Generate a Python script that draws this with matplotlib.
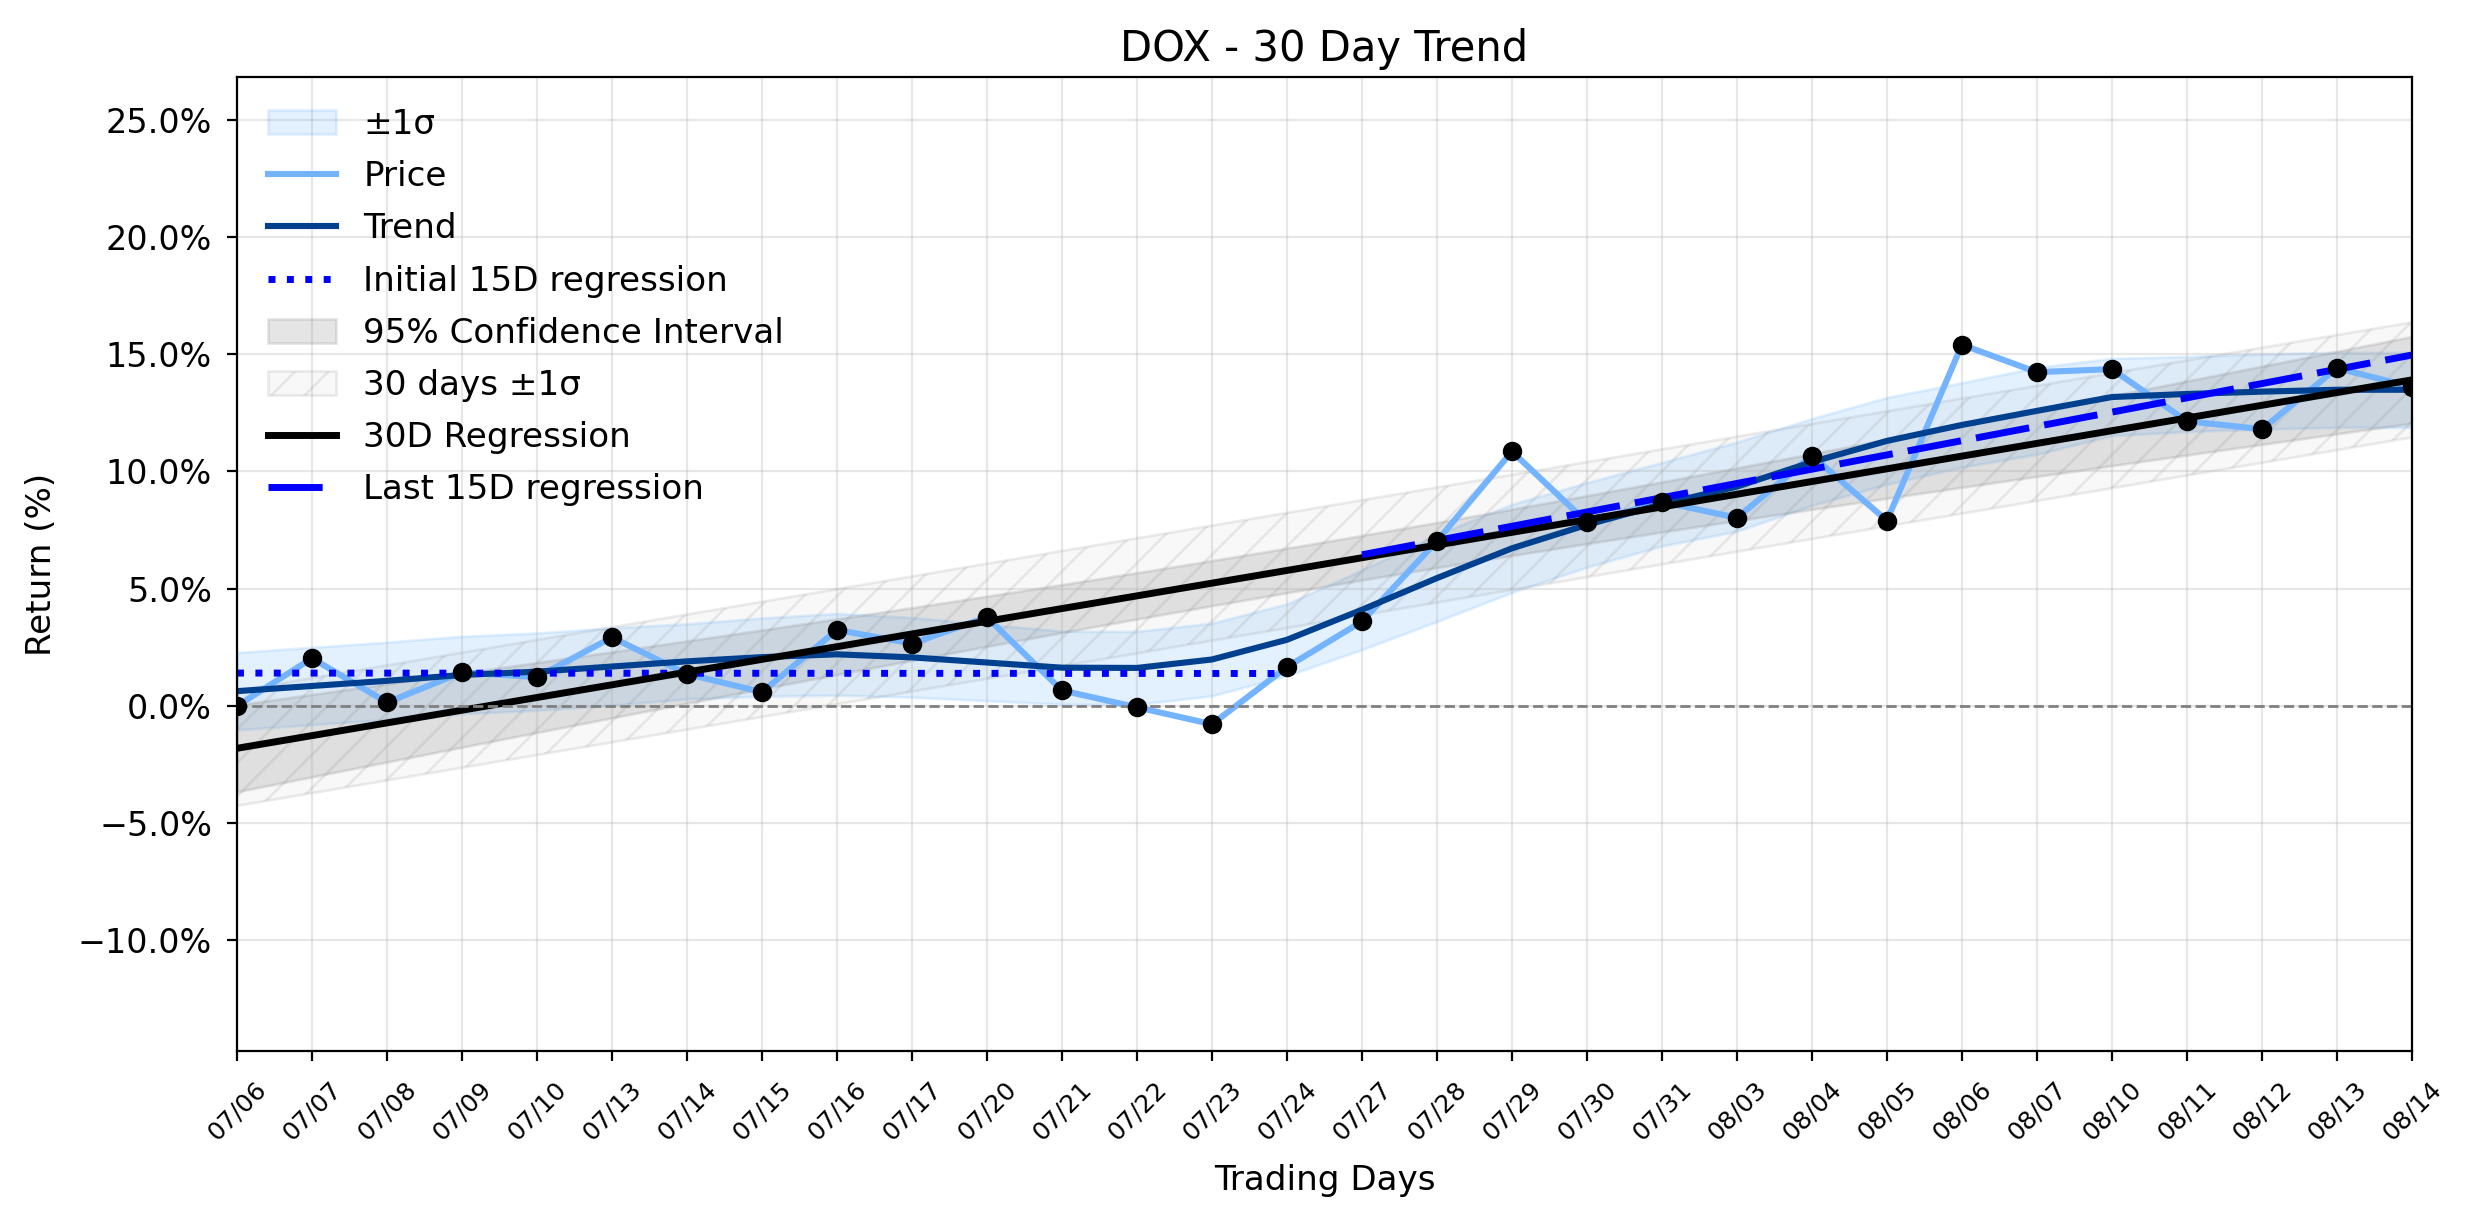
import numpy as np
import matplotlib
matplotlib.use("Agg")
import matplotlib.pyplot as plt
from matplotlib.ticker import PercentFormatter

ticker = "DOX"
dates = ["07/06", "07/07", "07/08", "07/09", "07/10", "07/13", "07/14", "07/15",
         "07/16", "07/17", "07/20", "07/21", "07/22", "07/23", "07/24", "07/27",
         "07/28", "07/29", "07/30", "07/31", "08/03", "08/04", "08/05", "08/06",
         "08/07", "08/10", "08/11", "08/12", "08/13", "08/14"]

# cumulative return (%)
price = [0.0, 2.03, 0.15, 1.43, 1.23, 2.92, 1.36, 0.59, 3.24, 2.66,
         3.78, 0.66, -0.06, -0.78, 1.66, 3.6, 7.03, 10.85, 7.83, 8.7,
         8.02, 10.67, 7.9, 15.4, 14.23, 14.36, 12.14, 11.8, 14.4, 13.6]

# smoothed trend line
trend = [0.63, 0.85, 1.07, 1.32, 1.46, 1.68, 1.9, 2.08, 2.2, 2.07,
         1.85, 1.63, 1.62, 1.98, 2.82, 4.1, 5.45, 6.72, 7.72, 8.6,
         9.35, 10.4, 11.3, 11.98, 12.58, 13.17, 13.3, 13.4, 13.48, 13.48]

# half width of the +-1 sigma band around the trend
trend_sigma = [1.65, 1.65, 1.65, 1.65, 1.65, 1.65, 1.6, 1.67, 1.74, 1.7,
               1.63, 1.56, 1.56, 1.55, 1.53, 1.7, 1.85, 1.88, 1.8, 1.78,
               1.9, 1.85, 1.85, 1.8, 1.85, 1.65, 1.6, 1.6, 1.6, 1.6]

x = np.arange(len(price))
p = np.array(price)
tr = np.array(trend)
sig = np.array(trend_sigma)

# 30 day regression
slope, intercept = np.polyfit(x, p, 1)
reg = slope * x + intercept
resid = p - reg
n = len(x)
s_err = np.sqrt(np.sum(resid ** 2) / (n - 2))
ci = 2.048 * s_err * np.sqrt(1 / n + (x - x.mean()) ** 2 / np.sum((x - x.mean()) ** 2))
std30 = np.std(resid)

# first / last 15 day regressions
x1, x2 = x[:15], x[15:]
c1 = np.polyfit(x1, p[:15], 1)
c2 = np.polyfit(x2, p[15:], 1)

fig, ax = plt.subplots(figsize=(12.37, 6.12), dpi=200)
fig.subplots_adjust(left=0.0958, right=0.9749, top=0.9368, bottom=0.1416)

ax.fill_between(x, tr - sig, tr + sig, color='dodgerblue', alpha=0.12, label='±1σ')
ax.plot(x, p, color='#74b3ff', lw=2.2, label='Price')
ax.plot(x, tr, color='#00408f', lw=2.2, label='Trend')
ax.plot(x1, np.polyval(c1, x1), color='blue', lw=2.5, linestyle=':', label='Initial 15D regression')
ax.fill_between(x, reg - ci, reg + ci, color='gray', alpha=0.2, label='95% Confidence Interval')
ax.fill_between(x, reg - std30, reg + std30, facecolor=(0.5, 0.5, 0.5, 0.05),
                edgecolor=(0.5, 0.5, 0.5, 0.15), hatch='//', label='30 days ±1σ')
ax.plot(x, reg, color='black', lw=2.5, label='30D Regression')
ax.plot(x2, np.polyval(c2, x2), color='blue', lw=2.5, linestyle=(0, (7.8, 2.2)),
        label='Last 15D regression')
ax.scatter(x, p, color='black', s=36, zorder=5)
ax.axhline(0, color='gray', linestyle='--', lw=1)

ax.set_xlim(0, n - 1)
ax.set_ylim(-14.7, 26.8)
ax.set_xticks(x)
ax.set_xticklabels(dates, rotation=45, fontsize=9)
ax.yaxis.set_major_formatter(PercentFormatter(decimals=1))
ax.set_yticks([-10, -5, 0, 5, 10, 15, 20, 25])
ax.tick_params(axis='y', labelsize=12, pad=5.5)
ax.tick_params(axis='x', pad=6)
ax.grid(True, alpha=0.3)

ax.set_title(f'{ticker} - 30 Day Trend', fontsize=15)
ax.set_xlabel('Trading Days', fontsize=12.3, labelpad=7)
ax.set_ylabel('Return (%)', fontsize=12.3, labelpad=7)
ax.legend(loc='upper left', frameon=False, fontsize=12.3, labelspacing=0.56)

fig.savefig('out.png', dpi=200)
